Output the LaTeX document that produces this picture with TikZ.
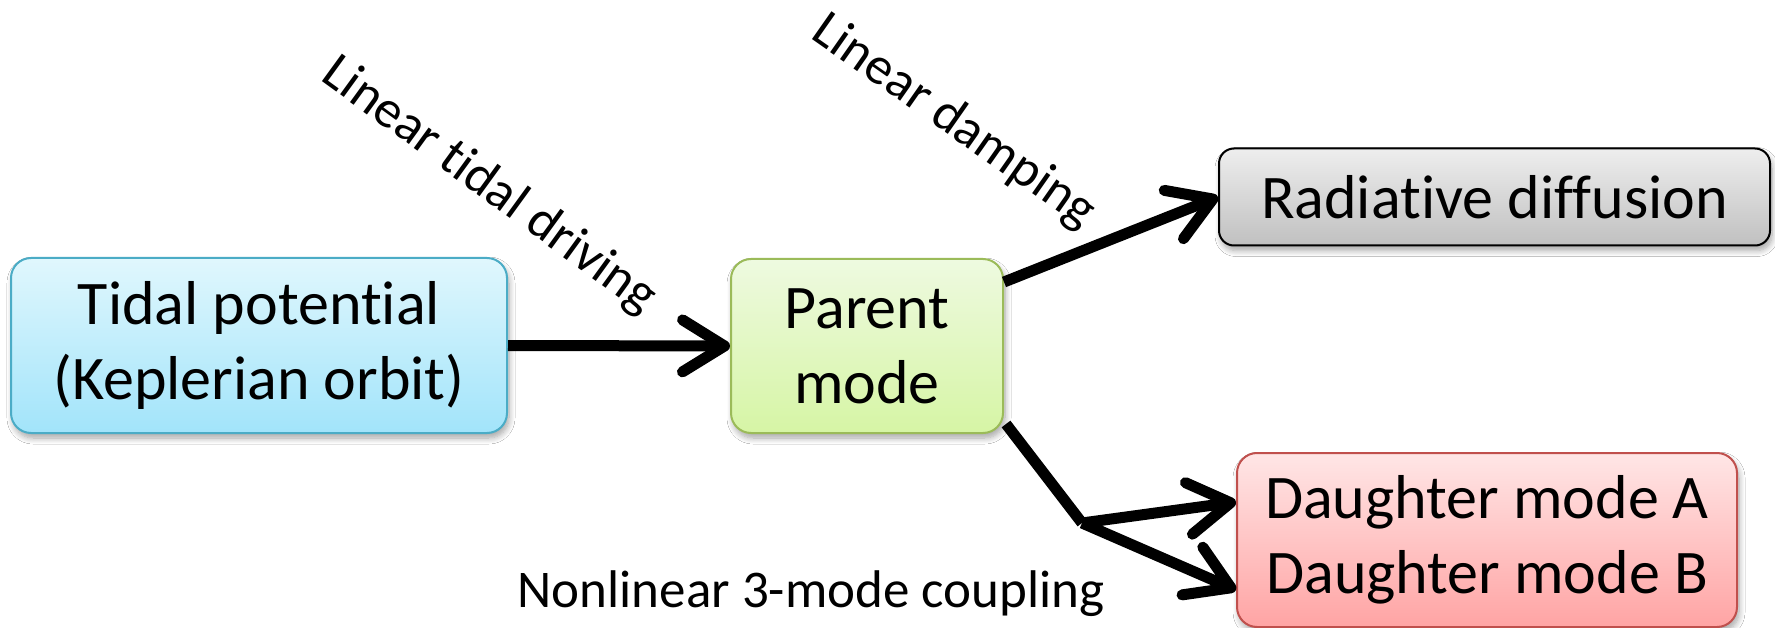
\documentclass[tikz,border=0pt]{standalone}
\usepackage{fontspec}
\setmainfont{Carlito}
% Carlito without its ligatures (keeps "ti" and "ff" as separate letters)
\font\boxfont="Carlito:-liga;-clig;-rlig;-calt;-dlig" at 62pt
\font\lblfont="Carlito:-liga;-clig;-rlig;-calt;-dlig" at 53pt
\usetikzlibrary{arrows.meta,calc,shadows,shadows.blur}

\definecolor{aquaTop}{RGB}{224,247,253}
\definecolor{aquaBot}{RGB}{162,228,250}
\definecolor{aquaLine}{RGB}{75,172,198}
\definecolor{greenTop}{RGB}{238,250,224}
\definecolor{greenBot}{RGB}{214,245,165}
\definecolor{greenLine}{RGB}{155,187,89}
\definecolor{greyTop}{RGB}{238,238,238}
\definecolor{greyBot}{RGB}{192,192,192}
\definecolor{redTop}{RGB}{255,230,230}
\definecolor{redBot}{RGB}{255,164,164}
\definecolor{redLine}{RGB}{192,80,77}

\begin{document}
\begin{tikzpicture}[x=1pt,y=-1pt,
  box/.style={rounded corners=20pt, line width=2pt, inner sep=0pt, align=center,
    font={\boxfont\baselineskip=75pt},
    blur shadow={shadow xshift=2pt, shadow yshift=-5pt, shadow blur radius=6pt,
      shadow blur steps=8, shadow opacity=35}},
  lbl/.style={font=\lblfont, inner sep=0pt},
  conn/.style={line width=11pt},
  arr/.style={conn, -{Straight Barb[length=42pt,width=52pt,round]}}]

\useasboundingbox[fill=white] (0,0) rectangle (1775,628);

% boxes
\node[box, draw=aquaLine, top color=aquaTop, bottom color=aquaBot,
      minimum width=496pt, minimum height=175pt] (tidal) at (259,345.5)
      {Tidal potential\\(Keplerian orbit)};
\node[box, draw=greenLine, top color=greenTop, bottom color=greenBot,
      minimum width=272pt, minimum height=174pt] (parent) at (867,346)
      {Parent\\mode};
\node[box, rounded corners=15pt, draw=black, top color=greyTop, bottom color=greyBot,
      minimum width=551pt, minimum height=97pt] (rad) at (1494.5,197)
      {Radiative diffusion};
\node[box, draw=redLine, top color=redTop, bottom color=redBot,
      minimum width=500pt, minimum height=174pt] (daughter) at (1487,540)
      {Daughter mode A\\Daughter mode B};

% process labels
\node[lbl, rotate=-36] (ltd) at (489,186) {Linear tidal driving};
\node[lbl, rotate=-35] (ldp) at (954,122) {Linear damping};
\node[lbl, anchor=base] (nlc) at (811,607) {Nonlinear 3-mode coupling};

% connectors
\draw[arr] (tidal.east) -- (parent.west);
\draw[arr] ($(parent.east)+(0,-64)$) -- (rad.west);
\coordinate (kink) at (1082,523);
\draw[conn] ($(parent.south east)+(2,-10)$) -- (kink);
\draw[arr] (kink) -- ($(daughter.west)+(0,-38)$);
\draw[arr] (kink) -- ($(daughter.west)+(0,50)$);
\end{tikzpicture}
\end{document}
